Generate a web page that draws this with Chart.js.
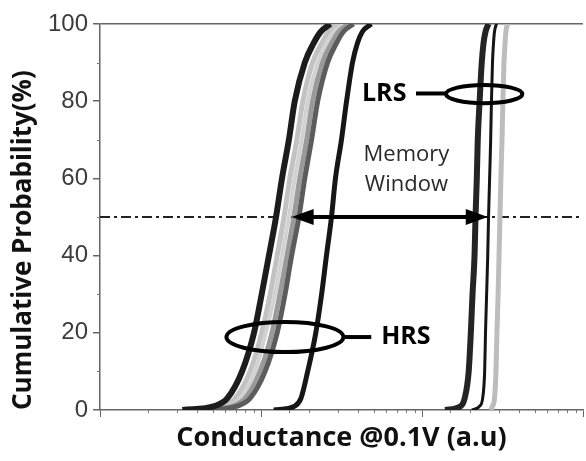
<!DOCTYPE html>
<html>
<head>
<meta charset="utf-8">
<script src="https://cdn.jsdelivr.net/npm/chart.js@4.4.1/dist/chart.umd.min.js"></script>
<style>
  html, body { margin: 0; padding: 0; background: #fff; }
  #wrap { width: 586px; height: 461px; }
</style>
</head>
<body>
<div id="wrap"><canvas id="cdf"></canvas></div>
<script>
// cumulative probability levels (%) shared by every curve
const probLevels = [0, 1, 3, 10, 20, 30, 40, 50, 60, 70, 80, 90, 95, 98, 100];

// HRS cells - conductance (a.u.) at each level
const hrsBlack1 = [3.25, 5.13, 6.17, 7.63, 9.05, 10.1, 11.2, 12.4, 13.5, 14.9, 16.2, 18.7, 21.2, 23.5, 27.0];
const hrsLight1 = [3.86, 5.74, 6.91, 8.55, 10.1, 11.4, 12.6, 13.9, 15.1, 16.7, 18.2, 20.9, 23.8, 26.3, 30.3];
const hrsLight2 = [4.14, 6.17, 7.42, 9.18, 10.7, 12.2, 13.5, 14.9, 16.2, 17.9, 19.5, 22.5, 25.5, 28.2, 32.5];
const hrsGray   = [4.45, 6.62, 7.97, 9.86, 11.7, 13.1, 14.5, 16.0, 17.4, 19.2, 20.9, 24.1, 27.4, 30.3, 34.9];
const hrsDark   = [4.78, 7.11, 8.55, 10.6, 12.6, 14.1, 15.5, 17.2, 18.7, 20.6, 22.5, 25.9, 29.4, 32.5, 37.5];
const hrsBlack2 = [12.0, 16.2, 17.7, 19.5, 21.9, 23.8, 25.5, 27.4, 29.0, 31.6, 34.0, 37.0, 39.7, 42.6, 48.4];

// LRS cells
const lrsBlack = [139, 174, 184, 195, 201, 206, 212, 215, 219, 222, 228, 235, 241, 248, 259];
const lrsThin  = [204, 228, 238, 245, 248, 252, 256, 259, 263, 267, 270, 274, 278, 282, 290];
const lrsLight = [267, 274, 282, 288, 292, 297, 301, 305, 309, 314, 318, 323, 328, 332, 340];

// axes
const yTickLabels = [0, 20, 40, 60, 80, 100];
const xMajor = [1, 10, 100, 1000];
const cutLevel = 50;

// memory window arrow (conductance from -> to at 50%)
const memoryWindow = [15.5, 256];

function curve(vals) {
  return vals.map((v, i) => ({ x: v, y: probLevels[i] }));
}

function line(vals, color, width) {
  return {
    data: curve(vals),
    borderColor: color,
    borderWidth: width,
    pointRadius: 0,
    cubicInterpolationMode: 'monotone',
    fill: false
  };
}

// annotations, placed in data units
const marks = {
  lrsRing: { x0: 141, x1: 420, y0: 79.5, y1: 84.2 },
  hrsRing: { x0: 6.1, x1: 32.5, y0: 15.0, y1: 22.8 },
  lrsLead: { x0: 91.8, x1: 141, y: 82 },
  hrsLead: { x0: 32.5, x1: 48.4, y: 18.9 },
  lrsText: { x: 80, y: 82 },
  hrsText: { x: 55.8, y: 18.9 },
  memText: { x: 80, y1: 66.1, y2: 58.3 }
};

const notes = {
  id: 'notes',
  afterDraw(chart) {
    const ctx = chart.ctx;
    const xs = chart.scales.x, ys = chart.scales.y;
    const area = chart.chartArea;

    // short minor ticks
    ctx.save();
    ctx.strokeStyle = '#777';
    ctx.lineWidth = 1;
    ys.ticks.forEach(t => {
      if (yTickLabels.includes(t.value)) return;
      const py = Math.round(ys.getPixelForValue(t.value)) + 0.5;
      ctx.beginPath(); ctx.moveTo(area.left - 3, py); ctx.lineTo(area.left, py); ctx.stroke();
    });
    xs.ticks.forEach(t => {
      if (xMajor.includes(t.value)) return;
      const px = Math.round(xs.getPixelForValue(t.value)) + 0.5;
      ctx.beginPath(); ctx.moveTo(px, area.bottom); ctx.lineTo(px, area.bottom + 3); ctx.stroke();
    });
    ctx.restore();

    ctx.save();
    ctx.strokeStyle = '#000';
    ctx.fillStyle = '#000';

    // memory window double arrow
    const ay = ys.getPixelForValue(cutLevel);
    const ax1 = xs.getPixelForValue(memoryWindow[0]);
    const ax2 = xs.getPixelForValue(memoryWindow[1]);
    const head = 22, half = 8;
    ctx.lineWidth = 4;
    ctx.beginPath(); ctx.moveTo(ax1 + head - 2, ay); ctx.lineTo(ax2 - head + 2, ay); ctx.stroke();
    ctx.beginPath(); ctx.moveTo(ax1, ay); ctx.lineTo(ax1 + head, ay - half); ctx.lineTo(ax1 + head, ay + half); ctx.closePath(); ctx.fill();
    ctx.beginPath(); ctx.moveTo(ax2, ay); ctx.lineTo(ax2 - head, ay - half); ctx.lineTo(ax2 - head, ay + half); ctx.closePath(); ctx.fill();

    // rings round each group
    [marks.lrsRing, marks.hrsRing].forEach(r => {
      const l = xs.getPixelForValue(r.x0), rr = xs.getPixelForValue(r.x1);
      const t = ys.getPixelForValue(r.y1), b = ys.getPixelForValue(r.y0);
      ctx.lineWidth = 4;
      ctx.beginPath();
      ctx.ellipse((l + rr) / 2, (t + b) / 2, (rr - l) / 2, (b - t) / 2, 0, 0, Math.PI * 2);
      ctx.stroke();
    });
    [marks.lrsLead, marks.hrsLead].forEach(s => {
      const py = ys.getPixelForValue(s.y);
      ctx.lineWidth = 4;
      ctx.beginPath();
      ctx.moveTo(xs.getPixelForValue(s.x0), py);
      ctx.lineTo(xs.getPixelForValue(s.x1), py);
      ctx.stroke();
    });

    ctx.textBaseline = 'middle';
    ctx.font = 'bold 25px "Open Sans"';
    ctx.textAlign = 'right';
    ctx.fillText('LRS', xs.getPixelForValue(marks.lrsText.x), ys.getPixelForValue(marks.lrsText.y));
    ctx.textAlign = 'left';
    ctx.fillText('HRS', xs.getPixelForValue(marks.hrsText.x), ys.getPixelForValue(marks.hrsText.y));

    ctx.font = '22px "Open Sans"';
    ctx.fillStyle = '#2a2a2a';
    ctx.textAlign = 'center';
    const mx = xs.getPixelForValue(marks.memText.x);
    ctx.fillText('Memory', mx, ys.getPixelForValue(marks.memText.y1));
    ctx.fillText('Window', mx, ys.getPixelForValue(marks.memText.y2));
    ctx.restore();
  }
};

document.addEventListener('DOMContentLoaded', function () {
  const ctx = document.getElementById('cdf').getContext('2d');

  new Chart(ctx, {
    type: 'line',
    data: {
      datasets: [
        line(lrsThin, '#141414', 3),
        line(lrsBlack, '#242424', 6),
        line(lrsLight, '#bdbdbd', 5),
        line(hrsBlack2, '#161616', 5),
        line(hrsBlack1, '#1c1c1c', 6),
        line(hrsDark, '#5c5c5c', 5),
        line(hrsGray, '#9a9a9a', 5),
        line(hrsLight2, '#d2d2d2', 4),
        line(hrsLight1, '#c2c2c2', 5),
        {
          data: [{ x: 1, y: cutLevel }, { x: 1000, y: cutLevel }],
          borderColor: '#222',
          borderWidth: 2,
          borderDash: [10, 4, 3, 4],
          pointRadius: 0
        }
      ]
    },
    options: {
      responsive: true,
      maintainAspectRatio: false,
      animation: false,
      events: [],
      layout: { padding: { top: 24, right: 0, left: 0, bottom: 0 } },
      plugins: { legend: { display: false }, tooltip: { enabled: false } },
      scales: {
        x: {
          type: 'logarithmic',
          min: 1,
          max: 1000,
          afterFit: s => { s.height = 51; },
          border: { color: '#666', width: 1.5 },
          grid: {
            drawOnChartArea: false,
            tickLength: 7,
            tickColor: c => xMajor.includes(c.tick.value) ? '#666' : 'rgba(0,0,0,0)'
          },
          ticks: { autoSkip: false, maxRotation: 0, callback: () => '' },
          title: {
            display: true,
            text: 'Conductance @0.1V (a.u)',
            color: '#111',
            font: { family: 'Open Sans', size: 27, weight: 'bold' },
            padding: { top: 0, bottom: 6 }
          }
        },
        y: {
          min: 0,
          max: 100,
          afterFit: s => { s.width = 100; },
          border: { color: '#666', width: 1.5 },
          grid: {
            color: c => c.tick.value === 100 ? '#666' : 'rgba(0,0,0,0)',
            lineWidth: 1.5,
            tickLength: 7,
            tickColor: c => yTickLabels.includes(c.tick.value) ? '#666' : 'rgba(0,0,0,0)'
          },
          ticks: {
            stepSize: 10,
            autoSkip: false,
            padding: 5,
            color: '#3c3c3c',
            font: { family: 'Liberation Sans', size: 24 },
            callback: v => yTickLabels.includes(v) ? v : ''
          },
          title: {
            display: true,
            text: 'Cumulative Probability(%)',
            align: 'start',
            color: '#111',
            font: { family: 'Open Sans', size: 26, weight: 'bold' },
            padding: { top: 8, bottom: 0 }
          }
        }
      }
    },
    plugins: [notes]
  });
});
</script>
</body>
</html>
